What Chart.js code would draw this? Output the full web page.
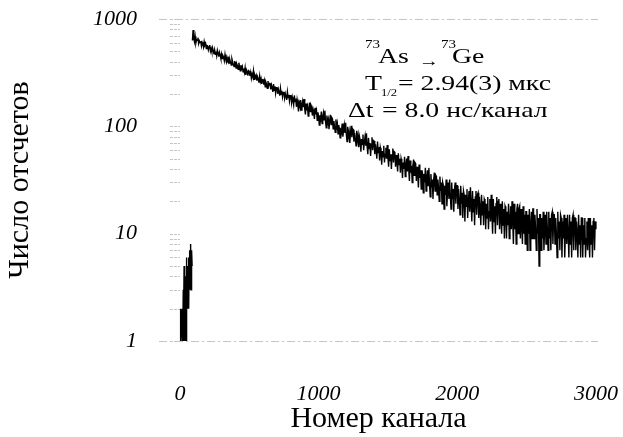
<!DOCTYPE html>
<html lang="ru">
<head>
<meta charset="utf-8">
<title>Число отсчетов — номер канала</title>
<script src="https://cdn.jsdelivr.net/npm/chart.js@4.4.1/dist/chart.umd.min.js"></script>
<style>
  html, body { margin: 0; padding: 0; background: #fff; }
  #wrap { width: 623px; height: 437px; }
</style>
</head>
<body>
<div id="wrap"><canvas id="decay-chart" width="623" height="437"></canvas></div>
<script>
// Спектр задержанных совпадений 73As -> 73Ge

// до старта: номера каналов 0, 2, 4 ... 88 и отсчеты
const PRE_START = 0;
const PRE_STEP = 2;
const PRE_COUNTS = [
  1, 1, 1, 2, 1, 1, 1, 1, 2, 1, 1,
  1, 3, 1, 2, 5, 1, 2, 1, 4, 2, 1, 3, 6, 1, 2,
  3, 5, 2, 4, 3, 6, 2, 5, 3, 7, 3, 5, 4, 8, 3, 6, 4, 7, 5
];

// кривая распада: каналы 90, 95, 100 ... 3000
const DECAY_START = 90;
const DECAY_STEP = 5;
const DECAY_COUNTS = [
  630, 790,
  655, 612, 688, 598, 640, 633, 670, 590, 625, 604,
  622, 560, 606, 583, 548, 615, 571, 590, 530, 566,
  560, 515, 548, 572, 501, 530, 494, 540, 508, 470,
  515, 470, 498, 455, 510, 480, 446, 489, 462, 430,
  471, 428, 455, 440, 409, 466, 420, 397, 437, 415,
  430, 388, 419, 395, 372, 425, 401, 378, 360, 398,
  395, 350, 381, 366, 340, 392, 355, 330, 372, 345,
  360, 322, 345, 318, 352, 301, 336, 325, 296, 330,
  326, 295, 318, 281, 306, 290, 327, 274, 300, 285,
  298, 266, 289, 275, 255, 294, 262, 278, 248, 270,
  272, 245, 266, 233, 258, 247, 226, 264, 238, 251,
  250, 221, 243, 230, 209, 248, 217, 236, 204, 229,
  229, 201, 222, 208, 193, 226, 199, 214, 188, 206,
  210, 183, 202, 191, 176, 209, 185, 197, 172, 193,
  196, 166, 187, 172, 158, 194, 170, 181, 152, 177,
  160, 138, 166, 155, 176, 142, 160, 172, 151, 180,
  145, 129, 163, 141, 152, 125, 147, 166, 137, 158,
  152, 126, 144, 133, 117, 149, 129, 139, 114, 135,
  124, 103, 127, 118, 137, 106, 121, 133, 115, 140,
  111, 97, 126, 108, 116, 94, 113, 128, 104, 121,
  118, 95, 112, 100, 88, 116, 98, 106, 85, 103,
  95, 78, 97, 90, 106, 80, 92, 103, 87, 108,
  84, 72, 99, 81, 89, 70, 87, 101, 79, 95,
  93, 72, 87, 77, 66, 91, 74, 82, 64, 80,
  74, 58, 76, 68, 84, 60, 71, 80, 66, 86,
  65, 55, 78, 62, 70, 53, 68, 79, 60, 74,
  73, 55, 68, 60, 50, 72, 57, 64, 48, 63,
  58, 44, 59, 52, 66, 46, 55, 63, 50, 67,
  51, 42, 61, 48, 55, 40, 54, 62, 46, 58,
  57, 42, 54, 47, 38, 56, 44, 50, 37, 50,
  46, 33, 46, 40, 52, 34, 43, 50, 38, 53,
  40, 31, 48, 37, 43, 30, 43, 49, 35, 46,
  45, 31, 42, 36, 27, 44, 33, 39, 26, 39,
  36, 24, 36, 30, 41, 25, 33, 39, 28, 41,
  29, 22, 36, 27, 32, 21, 32, 37, 25, 35,
  34, 23, 32, 27, 20, 34, 25, 30, 19, 30,
  28, 17, 28, 23, 32, 18, 25, 30, 21, 32,
  23, 17, 30, 21, 26, 16, 26, 30, 19, 28,
  28, 17, 26, 21, 15, 28, 19, 24, 14, 25,
  23, 13, 23, 18, 26, 14, 20, 25, 16, 27,
  19, 13, 25, 16, 21, 12, 22, 25, 15, 23,
  24, 14, 22, 17, 12, 23, 15, 20, 12, 21,
  20, 11, 19, 14, 22, 11, 16, 21, 13, 23,
  15, 10, 21, 13, 18, 10, 19, 22, 12, 20,
  21, 11, 19, 14, 10, 20, 12, 17, 9, 18,
  17, 9, 16, 12, 19, 9, 13, 18, 11, 20,
  13, 8, 19, 11, 16, 8, 17, 19, 10, 17,
  18, 9, 17, 12, 8, 18, 10, 15, 8, 16,
  16, 7, 15, 10, 17, 7, 12, 16, 9, 17,
  17, 9, 15, 11, 7, 17, 10, 14, 5, 15,
  15, 7, 14, 9, 16, 7, 11, 15, 8, 16,
  11, 7, 16, 9, 14, 7, 15, 16, 8, 15,
  15, 8, 14, 10, 6, 16, 9, 13, 7, 15,
  14, 6, 13, 9, 15, 6, 10, 14, 8, 15,
  10, 6, 15, 8, 13, 6, 14, 15, 7, 14,
  14, 7, 13, 10, 6, 15, 8, 12, 6, 14,
  14, 6, 12, 8, 14, 6, 9, 13, 7, 14,
  9, 6, 14, 8, 12, 6, 13, 14, 7, 13,
  11
];

// подписи осей
const X_TICKS = [0, 1000, 2000, 3000];
const Y_TICKS = [1, 10, 100, 1000];

const SERIF = '"Liberation Serif", "Times New Roman", serif';

// мелкие деления логарифмической шкалы: 1..9, 10..90, 100..900, 1000
const yMinor = [];
for (let d = 1; d < 1000; d *= 10) {
    for (let m = 1; m < 10; m++) yMinor.push(m * d);
}
yMinor.push(1000);

const preData = PRE_COUNTS.map((v, i) => ({ x: PRE_START + i * PRE_STEP, y: v }));
const decayData = DECAY_COUNTS.map((v, i) => ({ x: DECAY_START + i * DECAY_STEP, y: v }));

// серые пунктирные линии сверху/снизу и насечки у нуля
const framePlugin = {
    id: 'frame',
    beforeDatasetsDraw(chart) {
        const { ctx, chartArea: a, scales: { x, y } } = chart;
        ctx.save();
        ctx.strokeStyle = '#c4c4c4';
        ctx.lineWidth = 1;
        ctx.setLineDash([8, 3, 2, 3]);
        [a.top, a.bottom].forEach(py => {
            ctx.beginPath();
            ctx.moveTo(a.left, Math.round(py) + 0.5);
            ctx.lineTo(a.right, Math.round(py) + 0.5);
            ctx.stroke();
        });
        ctx.setLineDash([3, 1]);
        const x0 = x.getPixelForValue(0);
        y.ticks.forEach(t => {
            const py = Math.round(y.getPixelForValue(t.value)) + 0.5;
            ctx.beginPath();
            ctx.moveTo(x0 - 10, py);
            ctx.lineTo(x0, py);
            ctx.stroke();
        });
        ctx.restore();
    }
};

// надпись с параметрами распада (шрифт в оригинале растянут по ширине)
const STRETCH = 1.26;
function stretchedText(ctx, text, x, y, size) {
    ctx.save();
    ctx.translate(x, y);
    ctx.scale(STRETCH, 1);
    ctx.font = size + 'px ' + SERIF;
    ctx.fillText(text, 0, 0);
    ctx.restore();
}

const notePlugin = {
    id: 'note',
    afterDraw(chart) {
        const ctx = chart.ctx;
        ctx.save();
        ctx.fillStyle = '#000';
        ctx.textBaseline = 'alphabetic';

        stretchedText(ctx, '73', 365, 48, 12);
        stretchedText(ctx, 'As', 378, 63, 22);
        stretchedText(ctx, '\u2192', 419, 66, 16);
        stretchedText(ctx, '73', 441, 48, 12);
        stretchedText(ctx, 'Ge', 452, 63, 22);

        stretchedText(ctx, 'T', 365, 90, 22);
        stretchedText(ctx, '1/2', 381, 96, 10);
        stretchedText(ctx, '= 2.94(3) мкс', 398, 90, 22);

        stretchedText(ctx, '\u0394t', 348, 117, 22);
        stretchedText(ctx, '= 8.0 нс/канал', 382, 117, 22);
        ctx.restore();
    }
};

const ctx = document.getElementById('decay-chart').getContext('2d');
new Chart(ctx, {
    type: 'line',
    data: {
        datasets: [
            {
                label: 'до старта',
                data: preData,
                borderColor: '#000',
                borderWidth: 1.4,
                pointRadius: 0,
                tension: 0
            },
            {
                label: '73As -> 73Ge',
                data: decayData,
                borderColor: '#000',
                borderWidth: 1.4,
                pointRadius: 0,
                tension: 0
            }
        ]
    },
    options: {
        responsive: false,
        animation: false,
        devicePixelRatio: 1,
        layout: { padding: { top: 19, right: 25, bottom: 0, left: 0 } },
        plugins: {
            legend: { display: false },
            tooltip: { enabled: false }
        },
        scales: {
            x: {
                type: 'linear',
                min: -151,
                max: 3015,
                afterBuildTicks: s => { s.ticks = X_TICKS.map(v => ({ value: v })); },
                afterFit: s => { s.height = 96; },
                // прозрачные насечки только ради отступа подписей
                grid: { drawOnChartArea: false, tickLength: 38, color: 'rgba(0,0,0,0)' },
                border: { display: false },
                ticks: {
                    padding: 2,
                    maxRotation: 0,
                    autoSkip: false,
                    color: '#000',
                    font: { family: SERIF, style: 'italic', size: 22 },
                    callback: v => String(v)
                },
                title: {
                    display: true,
                    text: 'Номер канала',
                    color: '#000',
                    font: { family: SERIF, size: 30 },
                    padding: { top: 0, bottom: 0 }
                }
            },
            y: {
                type: 'logarithmic',
                min: 1,
                max: 1000,
                afterBuildTicks: s => { s.ticks = yMinor.map(v => ({ value: v })); },
                afterFit: s => { s.width = 159; },
                grid: { drawOnChartArea: false, tickLength: 18, color: 'rgba(0,0,0,0)' },
                border: { display: false },
                ticks: {
                    padding: 4,
                    autoSkip: false,
                    color: '#000',
                    font: { family: SERIF, style: 'italic', size: 22 },
                    callback: v => Y_TICKS.includes(v) ? String(v) : ''
                },
                title: {
                    display: true,
                    text: 'Число отсчетов',
                    color: '#000',
                    font: { family: SERIF, size: 30 },
                    padding: { top: 2, bottom: 0 }
                }
            }
        }
    },
    plugins: [framePlugin, notePlugin]
});
</script>
</body>
</html>
